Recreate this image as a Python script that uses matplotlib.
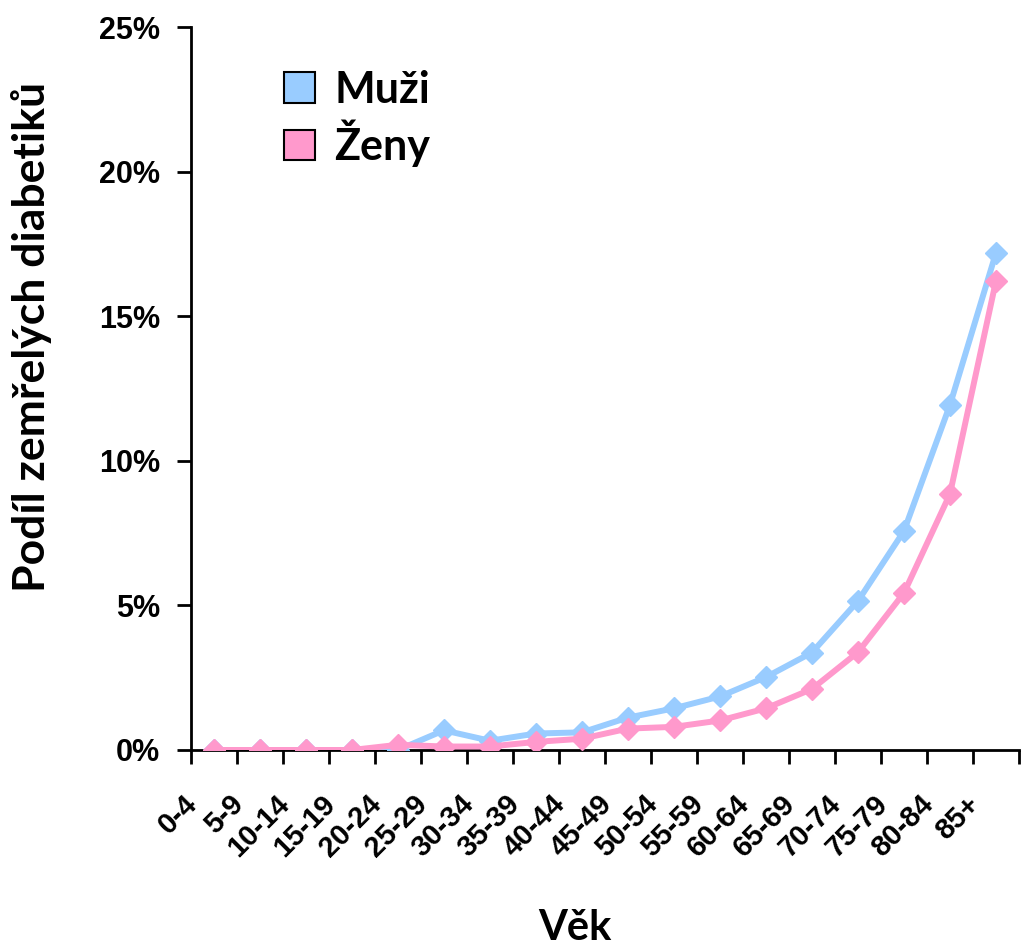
import numpy as np
import matplotlib
matplotlib.use("Agg")
import matplotlib.pyplot as plt
from matplotlib.patches import Patch
from matplotlib.ticker import FuncFormatter

vek = ["0-4", "5-9", "10-14", "15-19", "20-24", "25-29", "30-34", "35-39", "40-44",
       "45-49", "50-54", "55-59", "60-64", "65-69", "70-74", "75-79", "80-84", "85+"]
muzi = [0.0, 0.0, 0.0, 0.0, 0.0, 0.68, 0.32, 0.57, 0.61, 1.12, 1.44, 1.85, 2.52,
        3.37, 5.15, 7.57, 11.93, 17.19]
zeny = [0.0, 0.0, 0.0, 0.0, 0.18, 0.12, 0.12, 0.28, 0.39, 0.74, 0.8, 1.02, 1.44,
        2.11, 3.38, 5.43, 8.85, 16.22]

c_muzi = "#99CCFF"
c_zeny = "#FF99CC"

fig = plt.figure(figsize=(10.21, 9.49), dpi=100)
ax = fig.add_axes([0.187, 0.2097, 0.811, 0.7618])

x = np.arange(len(vek))
ax.plot(x, muzi, color=c_muzi, lw=4.3, marker="D", ms=11, zorder=3)
ax.plot(x, zeny, color=c_zeny, lw=4.3, marker="D", ms=11, zorder=4)

ax.set_xlim(-0.5, len(vek) - 0.5)
ax.set_ylim(0, 25)
ax.set_yticks([0, 5, 10, 15, 20, 25])
ax.yaxis.set_major_formatter(FuncFormatter(lambda v, p: f"{v:.0f}%"))

# tick marks between categories, labels drawn separately (shifted left like Excel)
ax.set_xticks(np.arange(-0.5, len(vek)))
ax.set_xticklabels([])
ax.tick_params(axis="x", length=10, width=2, direction="out")
ax.tick_params(axis="y", length=10, width=2, direction="out", pad=12)
for lab in ax.get_yticklabels():
    lab.set_fontsize(22)
    lab.set_fontweight("bold")
    lab.set_family("Liberation Sans")

for i, lab in enumerate(vek):
    ax.annotate(lab, xy=(x[i], 0), xycoords=("data", "axes fraction"),
                xytext=(-15, -36), textcoords="offset points",
                rotation=45, ha="right", va="center", rotation_mode="anchor",
                fontsize=21, fontweight="bold", family="Liberation Sans",
                annotation_clip=False)

for s in ["top", "right"]:
    ax.spines[s].set_visible(False)
for s in ["left", "bottom"]:
    ax.spines[s].set_linewidth(2)

fig.text(32 / 1021, 1 - 337 / 949, "Podíl zemřelých diabetiků", rotation=90,
         ha="center", va="center", fontsize=32, fontweight="bold", family="Lato")
fig.text(575 / 1021, 1 - 928 / 949, "Věk", ha="center", va="center",
         fontsize=30, fontweight="bold", family="Lato")

handles = [Patch(facecolor=c_muzi, edgecolor="black", lw=1.5, label="Muži"),
           Patch(facecolor=c_zeny, edgecolor="black", lw=1.5, label="Ženy")]
ax.legend(handles=handles, loc="upper left", bbox_to_anchor=(0.087, 0.971), frameon=False,
          prop={"family": "Lato", "weight": "bold", "size": 31}, borderpad=0,
          handlelength=0.7, handleheight=0.7, handletextpad=0.45, labelspacing=0.24)

fig.savefig("out.png", dpi=100)
